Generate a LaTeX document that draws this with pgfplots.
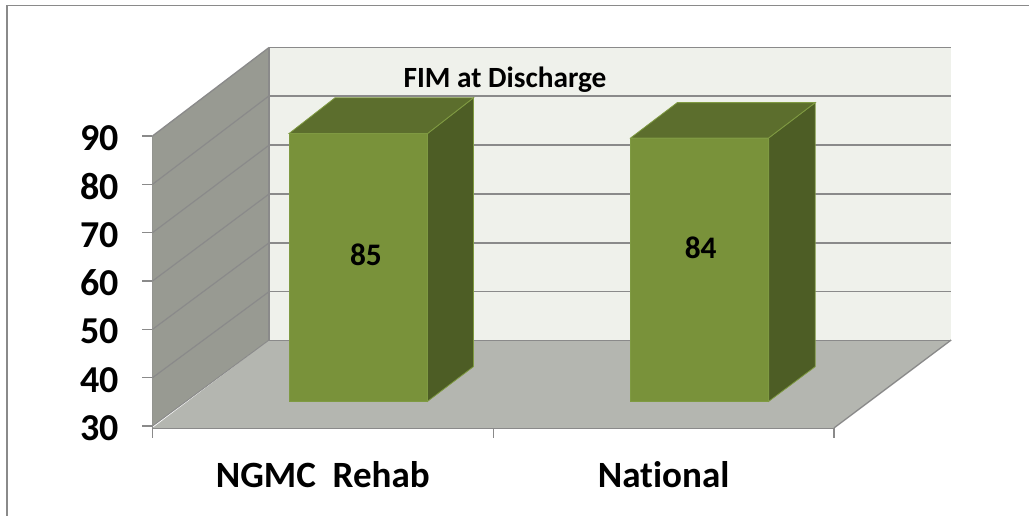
\documentclass[border=0pt]{standalone}
\usepackage{pgfplots}
\pgfplotsset{compat=1.18}
\usepackage{fontspec}
\setmainfont{Carlito}[Ligatures=NoCommon]
\definecolor{wallc}{HTML}{989A92}
\definecolor{backc}{HTML}{EFF1EB}
\definecolor{floorc}{HTML}{B4B6B0}
\definecolor{gridc}{HTML}{8A8A8A}
\definecolor{barf}{HTML}{79923A}
\definecolor{bart}{HTML}{5C6E2D}
\definecolor{bars}{HTML}{4D5D25}
\definecolor{bare}{HTML}{7F9A42}
\begin{document}
\begin{tikzpicture}[x=0.75pt,y=0.75pt]
\useasboundingbox (0,0) rectangle (1029,516);
\begin{axis}[
  at={(114.375pt,66pt)}, anchor=south west,
  scale only axis, width=511.1pt, height=219pt,
  xmin=0, xmax=2, ymin=29.6, ymax=90,
  clip=false,
  axis x line*=bottom, axis y line*=left,
  axis line style={gridc, line width=1.3pt},
  xtick={0.5,1.5}, xticklabels={NGMC\ \ Rehab,National},
  minor xtick={0,1,2},
  ytick={30,40,50,60,70,80,90},
  tick align=outside,
  major tick length=7.5pt, minor tick length=7.5pt,
  tick style={gridc, line width=1.1pt},
  major x tick style={draw=none},
  /pgf/number format/assume math mode=true,
  yticklabel style={font=\fontsize{28.5}{30}\selectfont\bfseries, inner sep=0pt, xshift=-17.5pt, yshift=-1.5pt},
  xticklabel style={font=\fontsize{27.8}{30}\selectfont\bfseries, inner sep=0pt, yshift=-17.5pt},
]
% walls and floor
\addplot[fill=wallc, draw=none] coordinates {(0,30) (0.342,47.8) (0.342,108.3) (0,90)} --cycle;
\addplot[fill=backc, draw=none] coordinates {(0.342,47.8) (2.344,47.8) (2.344,108.3) (0.342,108.3)} --cycle;
\addplot[fill=floorc, draw=none] coordinates {(0,29.6) (2,29.6) (2.344,47.8) (0.342,47.8)} --cycle;
% side wall gridlines
\addplot[gridc, line width=0.9pt] coordinates {(0,40) (0.342,57.8)};
\addplot[gridc, line width=0.9pt] coordinates {(0,50) (0.342,67.9)};
\addplot[gridc, line width=0.9pt] coordinates {(0,60) (0.342,78)};
\addplot[gridc, line width=0.9pt] coordinates {(0,70) (0.342,88.1)};
\addplot[gridc, line width=0.9pt] coordinates {(0,80) (0.342,98.3)};
\addplot[gridc, line width=1.0pt] coordinates {(0,90) (0.342,108.3)};
\addplot[gridc, line width=0.7pt] coordinates {(0,30) (0.342,47.8)};
% back wall gridlines
\addplot[gridc, line width=0.7pt] coordinates {(0.342,47.8) (2.344,47.8)};
\addplot[gridc, line width=1.2pt] coordinates {(0.342,57.8) (2.344,57.8)};
\addplot[gridc, line width=1.2pt] coordinates {(0.342,67.9) (2.344,67.9)};
\addplot[gridc, line width=1.2pt] coordinates {(0.342,78) (2.344,78)};
\addplot[gridc, line width=1.2pt] coordinates {(0.342,88.1) (2.344,88.1)};
\addplot[gridc, line width=1.2pt] coordinates {(0.342,98.3) (2.344,98.3)};
\addplot[gridc, line width=1.2pt] coordinates {(0.342,108.3) (2.344,108.3)};
\addplot[gridc, line width=0.9pt] coordinates {(0.342,108.3) (0.342,47.8)};
\addplot[gridc, line width=1.0pt] coordinates {(2,29.6) (2.344,47.8)};
% bar NGMC Rehab (85)
\addplot[fill=bars, draw=bare, line width=0.6pt] coordinates {(0.807,35.1) (0.942,42.3) (0.942,97.9) (0.807,90.5)} --cycle;
\addplot[fill=bart, draw=bare, line width=0.6pt] coordinates {(0.4006,90.5) (0.807,90.5) (0.942,97.9) (0.5356,97.9)} --cycle;
\addplot[fill=barf, draw=bare, line width=0.6pt] coordinates {(0.4006,35.1) (0.807,35.1) (0.807,90.5) (0.4006,90.5)} --cycle;
% bar National (84)
\addplot[fill=bars, draw=bare, line width=0.6pt] coordinates {(1.8083,35.1) (1.945,42.3) (1.945,96.9) (1.8083,89.6)} --cycle;
\addplot[fill=bart, draw=bare, line width=0.6pt] coordinates {(1.4034,89.6) (1.8083,89.6) (1.945,96.9) (1.54,96.9)} --cycle;
\addplot[fill=barf, draw=bare, line width=0.6pt] coordinates {(1.4034,35.1) (1.8083,35.1) (1.8083,89.6) (1.4034,89.6)} --cycle;
% text
\node[font=\fontsize{22}{24}\selectfont\bfseries, inner sep=0pt] at (axis cs:1.0345,101.6) {FIM at Discharge};
\node[font=\fontsize{23.5}{26}\selectfont\bfseries, inner sep=0pt] at (axis cs:0.6265,65.4) {85};
\node[font=\fontsize{23.5}{26}\selectfont\bfseries, inner sep=0pt] at (axis cs:1.609,66.8) {84};
\end{axis}
\draw[gridc, line width=1.3pt] (7,0) -- (7,510.5) -- (1029,510.5);
\end{tikzpicture}
\end{document}
